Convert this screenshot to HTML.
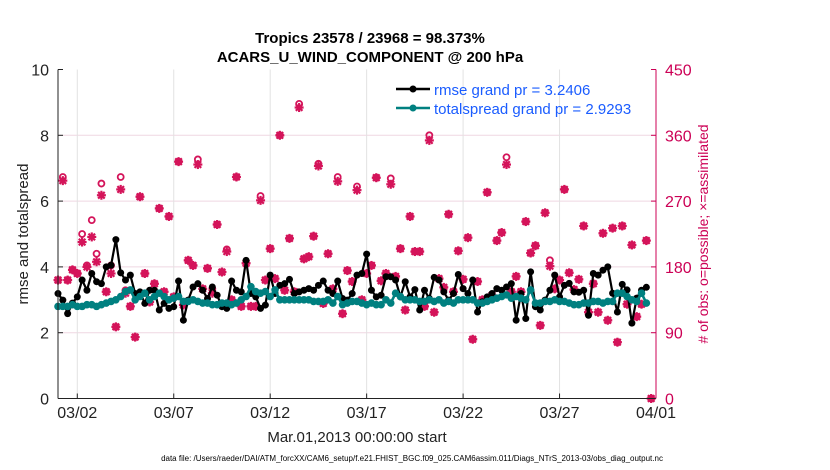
<!DOCTYPE html>
<html><head><meta charset="utf-8"><style>
body{margin:0;background:#fff;}
svg{display:block;font-family:"Liberation Sans",sans-serif;}
</style></head><body>
<svg id="chart" width="830" height="470" viewBox="0 0 830 470" xmlns="http://www.w3.org/2000/svg">
<rect width="830" height="470" fill="#fff"/>
<g id="grid"></g>
<g id="obs"></g>
<g id="series"></g>
<g id="axes"></g>
<text x="370" y="43" text-anchor="middle" font-size="15" font-weight="bold">Tropics 23578 / 23968 = 98.373%</text>
<text x="370" y="62" text-anchor="middle" font-size="15" font-weight="bold">ACARS_U_WIND_COMPONENT @ 200 hPa</text>
<text transform="translate(28,234) rotate(-90)" text-anchor="middle" font-size="15" fill="#222">rmse and totalspread</text>
<text transform="translate(708,234) rotate(-90)" text-anchor="middle" font-size="14" fill="#cc0055"># of obs: o=possible; ×=assimilated</text>
<text x="357" y="442" text-anchor="middle" font-size="15" fill="#222">Mar.01,2013 00:00:00 start</text>
<text x="412" y="461" text-anchor="middle" font-size="8" fill="#000">data file: /Users/raeder/DAI/ATM_forcXX/CAM6_setup/f.e21.FHIST_BGC.f09_025.CAM6assim.011/Diags_NTrS_2013-03/obs_diag_output.nc</text>
<g>
<line x1="396" y1="89" x2="430" y2="89" stroke="#000" stroke-width="2.5"/><circle cx="413" cy="89" r="3.5" fill="#000"/>
<text x="434" y="95" font-size="15" fill="#1a5cff">rmse grand pr = 3.2406</text>
<line x1="396" y1="108" x2="430" y2="108" stroke="#008080" stroke-width="2.5"/><circle cx="413" cy="108" r="3.5" fill="#008080"/>
<text x="434" y="114" font-size="15" fill="#1a5cff">totalspread grand pr = 2.9293</text>
</g>
</svg>
<script>
const rmse=[3.19,2.99,2.58,2.9,3.09,3.6,3.29,3.8,3.55,3.49,4.0,4.05,4.83,3.82,3.6,3.75,3.19,3.24,2.89,3.29,3.29,2.69,2.89,2.74,2.79,3.57,2.38,2.99,3.39,3.49,3.29,3.04,3.39,3.14,2.79,2.74,3.57,3.29,3.24,4.2,
3.19,3.09,2.74,2.84,3.75,3.19,3.44,3.49,3.62,3.19,3.24,3.29,3.34,3.29,3.44,3.57,3.29,3.19,3.57,3.04,2.99,3.19,3.75,3.8,4.39,3.29,3.09,3.14,3.7,3.7,3.6,3.09,3.55,3.09,3.31,2.69,3.29,3.04,3.68,3.6,
3.24,2.99,3.19,3.77,3.34,3.19,3.6,2.63,2.94,3.09,3.19,3.34,3.29,3.39,3.49,2.38,3.19,2.43,3.85,2.79,2.69,2.99,3.29,3.75,
3.09,3.44,3.5,3.24,3.23,3.29,2.53,3.8,3.75,3.9,4.0,3.2,2.63,3.47,3.3,2.29,3.05,3.29,3.38];
const spread=[2.8,2.8,2.8,2.85,2.8,2.8,2.85,2.85,2.8,2.85,2.9,2.95,3.0,3.1,3.25,3.3,3.0,3.1,3.2,3.0,
3.1,3.2,3.1,3.0,3.05,3.1,2.95,2.95,3.0,2.95,2.9,2.9,2.85,2.85,2.9,2.9,2.85,2.9,3.0,3.1,
3.4,3.25,3.2,3.25,3.1,3.3,3.0,3.0,3.0,3.0,3.0,3.0,3.0,2.95,2.95,2.95,3.0,2.9,3.1,2.85,
2.9,2.95,2.95,2.9,2.85,2.9,2.85,2.85,3.0,2.9,3.2,3.1,3.0,3.0,3.0,2.95,2.95,3.0,2.95,3.0,
2.9,2.95,2.9,3.0,3.0,3.0,3.0,2.9,2.9,2.95,3.0,3.05,3.1,3.15,3.05,3.1,3.05,3.0,3.3,2.9,
2.9,2.95,2.95,3.0,2.95,2.95,2.9,2.85,2.85,2.9,2.9,2.95,2.95,2.9,2.95,2.95,3.2,3.2,3.1,3.0,2.95,3.2,2.9];
const obsAssim=[162,298,162,176,171,214,180,221,187,278,146,171,98,286,144,126,84,276,171,132,157,260,146,249,139,324,128,189,182,320,150,178,144,238,173,201,135,303,126,185,
126,126,271,162,205,164,360,148,219,146,398,191,194,222,318,130,198,150,297,116,175,160,285,135,171,182,302,161,171,293,167,205,121,249,201,201,126,353,118,164,
152,252,146,202,163,220,81,160,135,282,141,216,227,320,146,167,146,242,199,209,100,254,181,150,162,286,172,149,163,236,118,157,118,226,107,233,77,236,129,210,112,
129,216,0];
const obsPoss=[162,303,162,176,171,225,182,244,198,294,146,182,98,303,148,126,84,276,171,132,157,260,146,249,139,324,128,189,182,327,150,178,150,238,173,204,135,303,126,185,
126,126,277,162,205,164,360,148,219,146,403,191,194,222,321,130,198,150,303,116,175,160,290,135,171,182,302,161,171,301,167,205,121,249,201,201,126,360,118,164,
152,252,146,202,163,220,81,160,135,282,141,216,227,330,146,167,146,242,199,209,100,254,189,150,162,286,172,149,163,236,118,157,118,226,107,233,77,236,129,210,112,
129,216,0];
const xTicks=["03/02","03/07","03/12","03/17","03/22","03/27","04/01"];
const xTickDays=[1,6,11,16,21,26,31];
const yTicks=[0,2,4,6,8,10];
const rTicks=[0,90,180,270,360,450];

const NS="http://www.w3.org/2000/svg";
const X0=58,X1=656,Y0=398.5,Y1=69.5,DAYS=31;
const xDay=d=>X0+(X1-X0)*d/DAYS;
const xIdx=i=>xDay(i/4);
const yL=v=>Y0-(Y0-Y1)*v/10;
const yR=c=>Y0-(Y0-Y1)*c/450;
function mk(tag,attrs,parent){const e=document.createElementNS(NS,tag);for(const k in attrs)e.setAttribute(k,attrs[k]);parent.appendChild(e);return e;}
const grid=document.getElementById('grid'),obs=document.getElementById('obs'),ser=document.getElementById('series'),ax=document.getElementById('axes');
yTicks.forEach(v=>{if(v>0&&v<10){const l=mk('line',{x1:X0,x2:X1,y1:yL(v),y2:yL(v),stroke:'#efd7e2','stroke-width':1},grid);

}
const t=mk('text',{x:X0-9,y:yL(v)+6,'text-anchor':'end','font-size':16,fill:'#222'},ax);t.textContent=v;


mk('line',{x1:X0,x2:X0+5,y1:yL(v),y2:yL(v),stroke:'#222'},ax);});
rTicks.forEach(c=>{const t=mk('text',{x:X1+9,y:yR(c)+6,'font-size':16,fill:'#cc0055'},ax);t.textContent=c;


mk('line',{x1:X1-5,x2:X1,y1:yR(c),y2:yR(c),stroke:'#cc0055'},ax);});
xTicks.forEach((s,k)=>{const x=xDay(xTickDays[k]);
if(xTickDays[k]<DAYS){const g=mk('line',{x1:x,x2:x,y1:Y1,y2:Y0,stroke:'#e2e2e2'},grid);

}
mk('line',{x1:x,x2:x,y1:Y0,y2:Y0-5,stroke:'#222'},ax);
const t=mk('text',{x:x,y:418,'text-anchor':'middle','font-size':16,fill:'#222'},ax);t.textContent=s;

});
const la=mk('line',{x1:X0,x2:X0,y1:Y1,y2:Y0,stroke:'#222','stroke-width':1},ax);


const ba=mk('line',{x1:X0,x2:X1,y1:Y0,y2:Y0,stroke:'#222','stroke-width':1},ax);


const ra=mk('line',{x1:X1,x2:X1,y1:Y1,y2:Y0,stroke:'#cc0055','stroke-width':1},ax);


obsAssim.forEach((c,i)=>{const x=Math.min(xIdx(i),X1),y=yR(c);
const g=mk('g',{stroke:'#d4145a','stroke-width':2.2},obs);


mk('line',{x1:x-4.5,x2:x+4.5,y1:y,y2:y},g);mk('line',{x1:x,x2:x,y1:y-4.5,y2:y+4.5},g);
mk('line',{x1:x-3.3,x2:x+3.3,y1:y-3.3,y2:y+3.3},g);mk('line',{x1:x-3.3,x2:x+3.3,y1:y+3.3,y2:y-3.3},g);});
obsPoss.forEach((c,i)=>{const x=Math.min(xIdx(i),X1),y=yR(c);
const e=mk('circle',{cx:x,cy:y,r:3,fill:'none',stroke:'#d4145a','stroke-width':1.8},obs);

});
function line(data,color,w,r,name){
const p=mk('polyline',{points:data.map((v,i)=>xIdx(i)+','+yL(v)).join(' '),fill:'none',stroke:color,'stroke-width':w,'stroke-linejoin':'round'},ser);


data.forEach((v,i)=>{const c=mk('circle',{cx:xIdx(i),cy:yL(v),r:r,fill:color},ser);

});}
line(rmse,'#000',2.2,3.5,'rmse');
line(spread,'#008080',2.6,3.8,'totalspread');
</script>
</body></html>
